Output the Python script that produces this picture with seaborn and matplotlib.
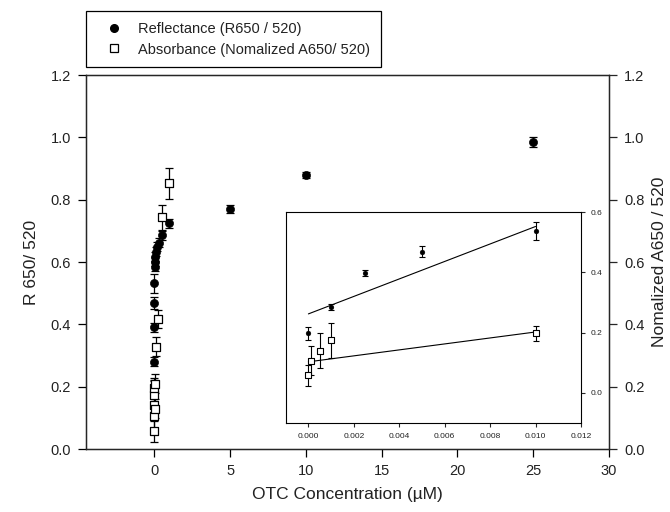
import numpy as np
import pandas as pd
import matplotlib
matplotlib.use("Agg")
import matplotlib.pyplot as plt
import seaborn as sns
from matplotlib.lines import Line2D

# main plot: reflectance (filled circles)
refl_conc = [0, 0.001, 0.0025, 0.005, 0.01, 0.025, 0.05, 0.075, 0.1, 0.2, 0.3, 0.5, 1, 5, 10, 25]
refl_val = [0.197, 0.28, 0.39, 0.468, 0.532, 0.585, 0.601, 0.617, 0.633, 0.649, 0.662, 0.686, 0.724, 0.77, 0.88, 0.985]
refl_err = [0.02, 0.015, 0.015, 0.02, 0.03, 0.015, 0.015, 0.015, 0.015, 0.015, 0.015, 0.015, 0.015, 0.012, 0.01, 0.015]

# main plot: absorbance (open squares)
abs_conc = [0, 0.0001, 0.0005, 0.001, 0.01, 0.025, 0.05, 0.1, 0.25, 0.5, 1]
abs_val = [0.058, 0.107, 0.14, 0.174, 0.197, 0.13, 0.21, 0.328, 0.417, 0.743, 0.853]
abs_err = [0.035, 0.045, 0.05, 0.055, 0.025, 0.03, 0.03, 0.03, 0.03, 0.04, 0.05]

# inset data
in_refl_conc = [0, 0.001, 0.0025, 0.005, 0.010]
in_refl_val = [0.197, 0.286, 0.397, 0.469, 0.538]
in_refl_err = [0.023, 0.01, 0.01, 0.018, 0.03]
in_abs_conc = [0, 0.0001, 0.0005, 0.001, 0.010]
in_abs_val = [0.058, 0.107, 0.14, 0.174, 0.197]
in_abs_err = [0.036, 0.048, 0.057, 0.058, 0.026]

# fitted lines
fit_x = [0, 0.010]
fit_refl = [0.262, 0.552]
fit_abs = [0.103, 0.202]

main_yticks = [0.0, 0.2, 0.4, 0.6, 0.8, 1.0, 1.2]
main_xticks = [0, 5, 10, 15, 20, 25, 30]
inset_xticks = [0.000, 0.002, 0.004, 0.006, 0.008, 0.010, 0.012]
inset_yticks = [0.0, 0.2, 0.4, 0.6]

sns.set_theme(style="ticks")
plt.rcParams['font.family'] = ['Liberation Sans', 'DejaVu Sans']
plt.rcParams['axes.linewidth'] = 0.9
plt.rcParams['xtick.major.width'] = 0.9
plt.rcParams['ytick.major.width'] = 0.9

txt = '#222222'

fig = plt.figure(figsize=(6.7, 5.12), dpi=100)
ax = fig.add_axes([0.1284, 0.123, 0.7806, 0.7305])

df_r = pd.DataFrame({'conc': refl_conc, 'val': refl_val})
df_a = pd.DataFrame({'conc': abs_conc, 'val': abs_val})

ax.errorbar(refl_conc, refl_val, yerr=refl_err, fmt='none', ecolor='black',
            elinewidth=0.9, capsize=3.2, capthick=0.9, zorder=2)
sns.scatterplot(data=df_r, x='conc', y='val', ax=ax, marker='o', color='black',
                edgecolor='black', s=34, zorder=3, legend=False)
ax.errorbar(abs_conc, abs_val, yerr=abs_err, fmt='none', ecolor='black',
            elinewidth=0.9, capsize=3.2, capthick=0.9, zorder=4)
sns.scatterplot(data=df_a, x='conc', y='val', ax=ax, marker='s', color='white',
                edgecolor='black', linewidth=0.9, s=38, zorder=5, legend=False)

ax.set_xlim(-4.5, 30)
ax.set_ylim(0, 1.2)
ax.set_xticks(main_xticks)
ax.set_yticks(main_yticks)
ax.set_yticklabels([f'{v:.1f}' for v in main_yticks])
ax.tick_params(axis='both', direction='out', length=6, labelsize=10.5, colors='black',
               labelcolor=txt, pad=5)
ax.set_xlabel('OTC Concentration (\u00b5M)', fontsize=12.5, color=txt, labelpad=6)
ax.set_ylabel('R 650/ 520', fontsize=12.5, color=txt, labelpad=8)
for s in ax.spines.values():
    s.set_color('black')

ax2 = ax.twinx()
ax2.set_ylim(0, 1.2)
ax2.set_yticks(main_yticks)
ax2.set_yticklabels([f'{v:.1f}' for v in main_yticks])
ax2.tick_params(axis='y', direction='out', length=6, labelsize=10.5, labelcolor=txt, pad=5)
ax2.set_ylabel('Nomalized A650 / 520', fontsize=12.5, color=txt, labelpad=5)

# inset
axi = fig.add_axes([0.4264, 0.1738, 0.4407, 0.4121])
axi.errorbar(in_refl_conc, in_refl_val, yerr=in_refl_err, fmt='none', ecolor='black',
             elinewidth=0.8, capsize=2.0, capthick=0.8, zorder=2)
sns.scatterplot(x=in_refl_conc, y=in_refl_val, ax=axi, marker='o', color='black',
                edgecolor='black', s=12, zorder=3, legend=False)
axi.errorbar(in_abs_conc, in_abs_val, yerr=in_abs_err, fmt='none', ecolor='black',
             elinewidth=0.8, capsize=2.0, capthick=0.8, zorder=4)
sns.scatterplot(x=in_abs_conc, y=in_abs_val, ax=axi, marker='s', color='white',
                edgecolor='black', linewidth=0.8, s=20, zorder=5, legend=False)
sns.lineplot(x=fit_x, y=fit_refl, ax=axi, color='black', linewidth=0.8, zorder=1)
sns.lineplot(x=fit_x, y=fit_abs, ax=axi, color='black', linewidth=0.8, zorder=1)

axi.set_xlim(-0.001, 0.012)
axi.set_ylim(-0.1, 0.6)
axi.set_xticks(inset_xticks)
axi.set_xticklabels([f'{v:.3f}' for v in inset_xticks])
axi.set_yticks(inset_yticks)
axi.set_yticklabels([f'{v:.1f}' for v in inset_yticks])
axi.yaxis.tick_right()
axi.tick_params(axis='both', direction='out', length=3, labelsize=6, labelcolor=txt,
                width=0.8, pad=4)
for s in axi.spines.values():
    s.set_linewidth(0.8)
    s.set_color('black')

# legend box above the plot
handles = [
    Line2D([], [], marker='o', color='black', linestyle='none', markersize=5.5),
    Line2D([], [], marker='s', markerfacecolor='white', markeredgecolor='black',
           linestyle='none', markersize=5.5, markeredgewidth=0.9),
]
leg = fig.legend(handles, ['Reflectance (R650 / 520)', 'Absorbance (Nomalized A650/ 520)'],
                 loc='upper left', bbox_to_anchor=(0.1284, 0.9785), fontsize=10.5,
                 frameon=True, fancybox=False, edgecolor='black', framealpha=1,
                 borderpad=0.75, handletextpad=0.4, labelspacing=0.45,
                 handlelength=2.4, borderaxespad=0)
leg.get_frame().set_linewidth(0.9)
for t in leg.get_texts():
    t.set_color(txt)

fig.savefig('out.png', dpi=100)
